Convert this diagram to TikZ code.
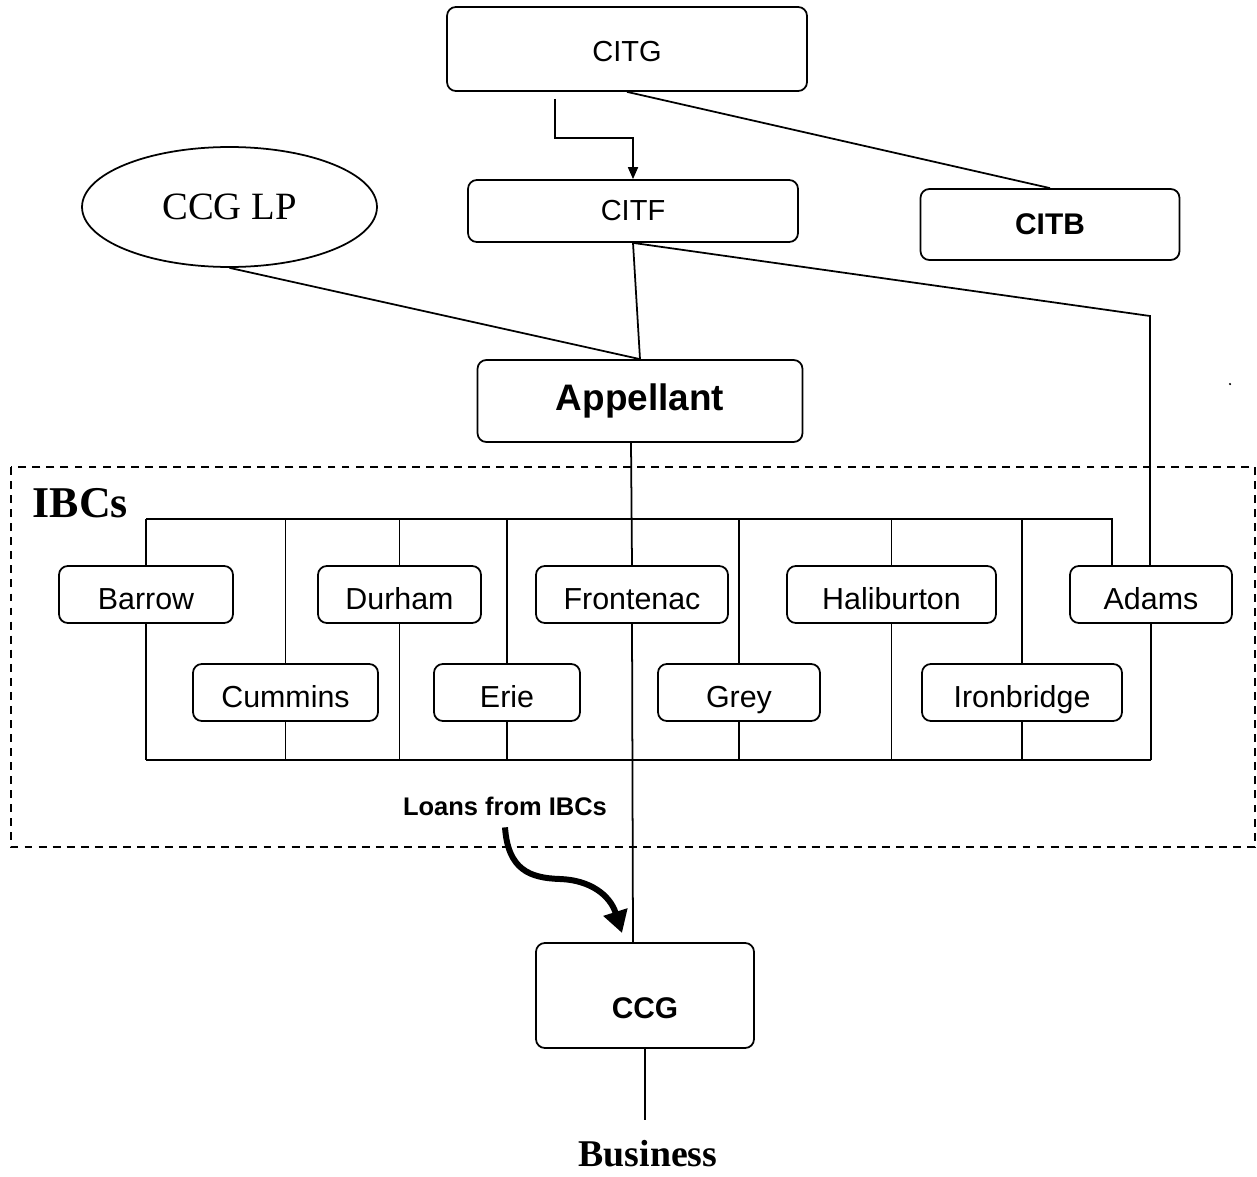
\documentclass[tikz,border=0pt]{standalone}
\usepackage{fontspec}
\setmainfont{Liberation Serif}
\newfontfamily\arial{Liberation Sans}
\usetikzlibrary{arrows.meta,shapes.geometric}
\newcommand{\fsz}[1]{\fontsize{#1}{#1}\selectfont}

\begin{document}
\begin{tikzpicture}[x=0.02cm, y=-0.02cm, line width=1pt]
  \useasboundingbox (0,0) rectangle (1257,1176);

  % Stile.
  \tikzstyle{box}=[draw, rounded corners=5pt, inner sep=0pt, font=\arial\fsz{16.5pt}]
  \tikzstyle{ibc}=[box, minimum height=1.14cm, text height=0.87cm, text depth=0.27cm,
                   font=\arial\fsz{17.3pt}]
  \tikzstyle{bold}=[font=\arial\bfseries\fsz{17pt}]
  \tikzstyle{arr}=[-{Triangle[length=0.24cm, width=0.2cm]}]

  % Obere Ebene.
  \node[box, minimum width=7.2cm, minimum height=1.68cm,
        text height=1.1cm, text depth=0.58cm] (citg) at (627,49) {CITG};
  \node[box, minimum width=6.6cm, minimum height=1.24cm] (citf) at (633,211) {CITF};
  \node[box, bold, minimum width=5.18cm, minimum height=1.42cm] (citb) at (1050,224.5) {CITB};
  \node[ellipse, draw, minimum width=5.9cm, minimum height=2.4cm, inner sep=0pt,
        font=\fsz{22pt}] (ccglp) at (229.5,207) {CCG LP};
  \node[box, minimum width=6.5cm, minimum height=1.64cm,
        font=\arial\bfseries\fsz{21pt}] (appellant) at (640,401) {Appellant};

  \draw[arr] ([xshift=-1.44cm, yshift=-4pt]citg.south) |- ([yshift=0.82cm]citf.north) -- (citf.north);
  \draw (citg.south) -- (citb.north);
  \draw (ccglp.south) -- (appellant.north);
  \draw (citf.south) -- (appellant.north);

  % IBCs.
  \draw[dash pattern=on 4.5pt off 3.5pt] (11,467) rectangle (1255,847);
  \node[font=\bfseries\fsz{25pt}, inner sep=0pt] (ibcs) at (80.5,503) {IBCs};

  \node[ibc, minimum width=3.48cm] (barrow) at (146,594.5) {Barrow};
  \node[ibc, minimum width=3.26cm] (durham) at (399.5,594.5) {Durham};
  \node[ibc, minimum width=3.84cm] (frontenac) at (632,594.5) {Frontenac};
  \node[ibc, minimum width=4.18cm] (haliburton) at (891.5,594.5) {Haliburton};
  \node[ibc, minimum width=3.24cm] (adams) at (1151,594.5) {Adams};
  \node[ibc, minimum width=3.7cm] (cummins) at (285.5,692.5) {Cummins};
  \node[ibc, minimum width=2.92cm] (erie) at (507,692.5) {Erie};
  \node[ibc, minimum width=3.24cm] (grey) at (739,692.5) {Grey};
  \node[ibc, minimum width=4cm] (ironbridge) at (1022,692.5) {Ironbridge};

  \coordinate (topL) at (146,519);
  \coordinate (topR) at (1112,519);
  \coordinate (botL) at (146,760);
  \coordinate (knick) at (1150,316);

  \draw (topL) -- (topR) -- (topR |- adams.north);
  \foreach \n in {barrow,cummins,durham,erie,grey,haliburton,ironbridge}
    \draw (\n.north) -- (\n.north |- topL);
  \foreach \n in {barrow,cummins,durham,erie,grey,haliburton,ironbridge,adams}
    \draw (\n.south) -- (\n.south |- botL);
  \draw (botL) -- (adams.south |- botL);

  \draw (citf.south) -- (knick) -- (knick |- adams.north);
  \fill (1230,384) circle (0.7pt);

  % Untere Ebene.
  \node[box, bold, minimum width=4.36cm, minimum height=2.1cm,
        text height=1.515cm, text depth=0.585cm] (ccg) at (645,995.5) {CCG};
  \node[font=\bfseries\fsz{21.5pt}, inner sep=11pt] (business) at (648,1154) {Business};

  \draw ([xshift=-0.18cm]appellant.south) -- (frontenac.north);
  \draw (frontenac.south) -- ([xshift=-0.24cm]ccg.north);
  \draw (ccg.south) -- (ccg.south |- business.north);

  % Darlehen.
  \node[font=\arial\bfseries\fsz{14.5pt}] (loans) at (505,806) {Loans from IBCs};
  \coordinate (tip) at (622,933);
  \draw[line width=3.4pt, -{Triangle[length=0.44cm, width=0.48cm]}]
    ([yshift=-3pt]loans.south) .. controls (508,870) and (530,878) .. (560,879)
    .. controls (590,880) and (610,895) .. (tip);
\end{tikzpicture}
\end{document}
